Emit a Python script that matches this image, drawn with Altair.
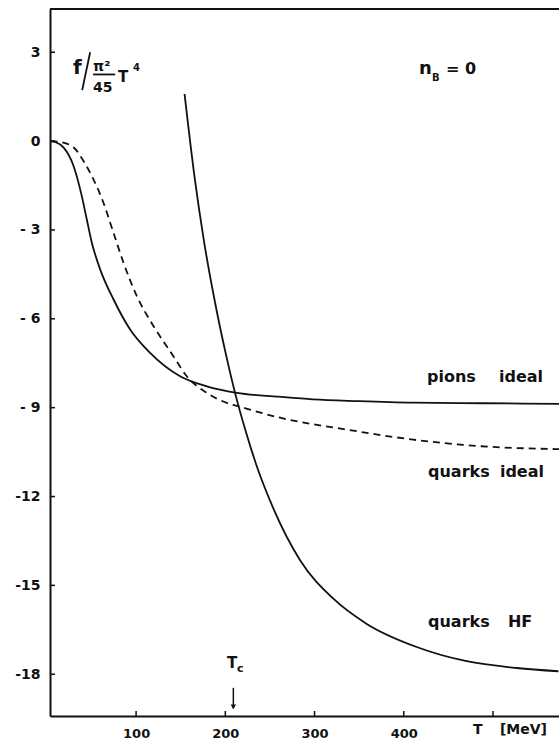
import altair as alt
import pandas as pd

# ---------------- data ----------------
T_MIN, T_MAX = 3.5, 574.0
F_MIN, F_MAX = -19.41, 4.46

pions_T = [4, 10, 18.6, 29.8, 39.1, 44.7, 50.4, 59.7, 74.6, 93.3, 115.7, 149.3,
           179.2, 212.8, 260, 298, 350, 410, 490, 574]
pions_f = [0, -0.04, -0.21, -0.83, -1.85, -2.64, -3.43, -4.33, -5.34, -6.36, -7.15,
           -7.94, -8.28, -8.5, -8.63, -8.72, -8.78, -8.83, -8.85, -8.87]

qideal_T = [4, 15, 29.8, 41, 52.2, 63.4, 74.6, 85.8, 100.8, 119.4, 141.8, 156.8,
            179.2, 201.6, 216.5, 261.3, 336, 410.7, 485.4, 574]
qideal_f = [0, -0.03, -0.21, -0.67, -1.29, -2.08, -3.09, -4.1, -5.23, -6.24, -7.26,
            -7.94, -8.5, -8.84, -8.97, -9.34, -9.74, -10.08, -10.3, -10.4]

qhf_T = [154.3, 165.5, 176.2, 190.2, 203.1, 210.9, 223.3, 235.2, 253.8,
         283.8, 321.1, 358.5, 414.5, 470.5, 526.6, 573.4]
qhf_f = [1.59, -1.21, -3.40, -5.71, -7.52, -8.5, -9.84, -10.97, -12.4,
         -14.15, -15.45, -16.3, -17.08, -17.56, -17.79, -17.9]

y_ticks = [3, 0, -3, -6, -9, -12, -15, -18]
y_tick_labels = ["3", "0", "- 3", "- 6", "- 9", "-12", "-15", "-18"]
x_ticks = [100, 200, 300, 400, 500]
x_tick_labels = ["100", "200", "300", "400", ""]

T_c = 209

# annotation texts with their anchors in data units (T, f) and font sizes
ann_text = ["f", "π²", "45", "T", "4", "n", "B", "= 0",
            "pions", "ideal", "quarks", "ideal", "quarks", "HF",
            "T", "c", "T", "[MeV]"]
ann_T = [29.4, 51.8, 51.8, 79.8, 96.6, 417.1, 431.6, 447.3,
         426.0, 506.7, 427.2, 507.8, 427.2, 516.8,
         202.0, 213.2, 477.6, 507.8]
ann_f = [2.27, 2.37, 1.66, 2.0, 2.37, 2.27, 2.03, 2.27,
         -8.12, -8.12, -11.33, -11.33, -16.4, -16.4,
         -17.79, -17.92, -20.02, -20.02]
ann_size = [20, 14, 14, 15, 10, 18, 10, 16,
            16, 16, 16, 16, 16, 16,
            15, 11, 14, 14]

# slash and fraction bar of the y label
seg_T = [48.5, 51.8]
seg_T2 = [39.6, 76.5]
seg_f = [3.0, 2.25]
seg_f2 = [1.72, 2.25]

# ---------------- chart ----------------
W, H = 509, 707
FONT = "DejaVu Sans"
INK = "#111111"


def expr_map(keys, labels):
    e = "datum.label"
    for k, l in zip(keys, labels):
        e = f"datum.value == {k} ? '{l}' : ({e})"
    return e


xs = alt.Scale(domain=[T_MIN, T_MAX], nice=False, zero=False)
ys = alt.Scale(domain=[F_MIN, F_MAX], nice=False, zero=False)

x_axis = alt.Axis(values=x_ticks, labelExpr=expr_map(x_ticks, x_tick_labels),
                  ticks=False, grid=False, domainColor=INK, domainWidth=2,
                  labelFont=FONT, labelFontSize=13, labelFontWeight="bold",
                  labelColor=INK, labelPadding=11, title=None)
y_axis = alt.Axis(values=y_ticks, labelExpr=expr_map(y_ticks, y_tick_labels),
                  ticks=False, grid=False, domainColor=INK, domainWidth=2,
                  labelFont=FONT, labelFontSize=14, labelFontWeight="bold",
                  labelColor=INK, labelPadding=10, title=None)


def X(field):
    return alt.X(f"{field}:Q", scale=xs, axis=x_axis)


def Y(field):
    return alt.Y(f"{field}:Q", scale=ys, axis=y_axis)


solid_df = pd.concat([
    pd.DataFrame({"T": pions_T, "f": pions_f, "s": "pions ideal"}),
    pd.DataFrame({"T": qhf_T, "f": qhf_f, "s": "quarks HF"}),
])
dash_df = pd.DataFrame({"T": qideal_T, "f": qideal_f, "s": "quarks ideal"})

solid = alt.Chart(solid_df).mark_line(color=INK, strokeWidth=1.8, interpolate="monotone").encode(
    x=X("T"), y=Y("f"), detail="s:N")
dashed = alt.Chart(dash_df).mark_line(color=INK, strokeWidth=1.8, interpolate="monotone",
                                      strokeDash=[7, 5]).encode(x=X("T"), y=Y("f"))

yt = alt.Chart(pd.DataFrame({"f": y_ticks})).mark_rule(color=INK, strokeWidth=1.5).encode(
    y=Y("f"), x=alt.value(0), x2=alt.value(5))
xt = alt.Chart(pd.DataFrame({"T": x_ticks})).mark_rule(color=INK, strokeWidth=1.5).encode(
    x=X("T"), y=alt.value(H), y2=alt.value(H - 5))
top = alt.Chart(pd.DataFrame({"a": [0]})).mark_rule(color=INK, strokeWidth=2).encode(
    x=alt.value(0), x2=alt.value(W), y=alt.value(0))

segs = alt.Chart(pd.DataFrame({"T": seg_T, "T2": seg_T2, "f": seg_f, "f2": seg_f2})).mark_rule(
    color=INK, strokeWidth=1.8).encode(x=X("T"), x2="T2:Q", y=Y("f"), y2="f2:Q")

arrow = alt.Chart(pd.DataFrame({"T": [T_c], "f": [-18.46], "f2": [-19.15]})).mark_rule(
    color=INK, strokeWidth=1.5).encode(x=X("T"), y=Y("f"), y2="f2:Q")
head = alt.Chart(pd.DataFrame({"T": [T_c], "f": [-19.1]})).mark_point(
    shape="triangle-down", filled=True, color=INK, size=30, opacity=1).encode(x=X("T"), y=Y("f"))

ann = alt.Chart(pd.DataFrame({"t": ann_text, "T": ann_T, "f": ann_f, "sz": ann_size})).mark_text(
    align="left", baseline="alphabetic", font=FONT, fontWeight="bold", color=INK).encode(
    x=X("T"), y=Y("f"), text="t:N", size=alt.Size("sz:Q", scale=None, legend=None))

chart = alt.layer(solid, dashed, yt, xt, top, segs, arrow, head, ann).properties(
    width=W, height=H,
    padding={"left": 50, "top": 9, "right": 0, "bottom": 23},
    autosize=alt.AutoSizeParams(type="none"),
    background="white",
).configure_view(stroke=None)

chart.save("out.html", embed_options={"renderer": "svg", "actions": False})
